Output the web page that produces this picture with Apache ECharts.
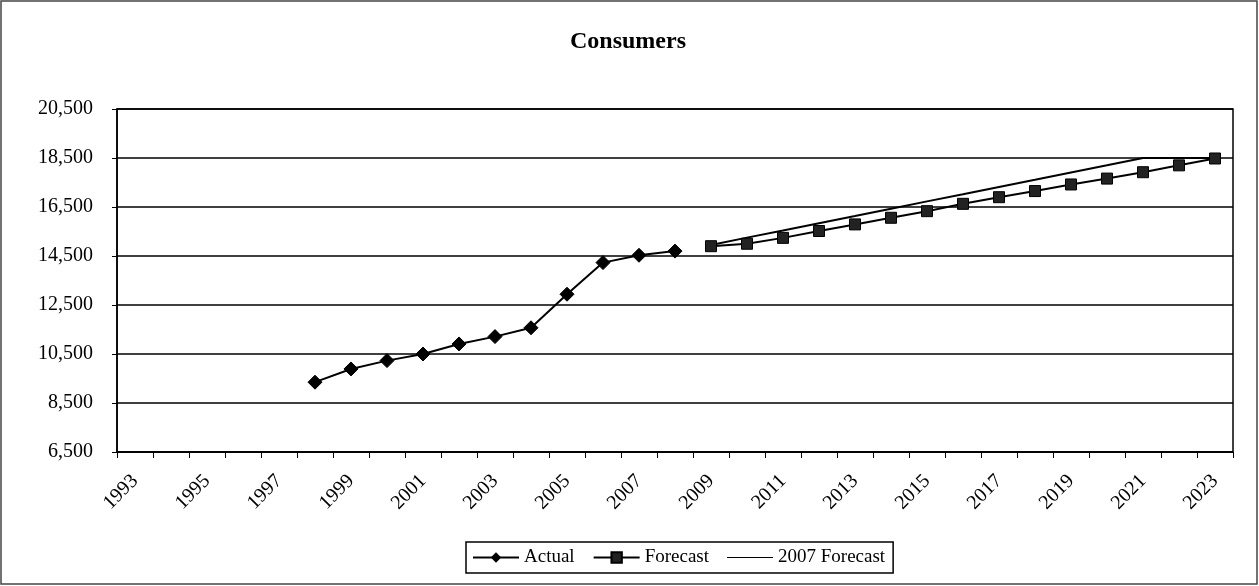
<!DOCTYPE html>
<html>
<head>
<meta charset="utf-8">
<script src="https://cdn.jsdelivr.net/npm/echarts@6/dist/echarts.min.js"></script>
<style>
html,body{margin:0;padding:0;background:#fff;}
#chart{width:1259px;height:586px;}
</style>
</head>
<body>
<div id="chart"></div>
<script>
const years = ['1993','1994','1995','1996','1997','1998','1999','2000','2001','2002','2003','2004','2005','2006','2007','2008','2009','2010','2011','2012','2013','2014','2015','2016','2017','2018','2019','2020','2021','2022','2023'];
const actual = [null,null,null,null,null,9350,9890,10230,10500,10910,11210,11570,12940,14230,14530,14700,null,null,null,null,null,null,null,null,null,null,null,null,null,null,null];
const forecast = [null,null,null,null,null,null,null,null,null,null,null,null,null,null,null,null,14900,15000,15240,15520,15790,16060,16330,16630,16900,17150,17420,17660,17920,18200,18480];
const forecast2007 = [null,null,null,null,null,null,null,null,null,null,null,null,null,null,null,null,14950,15250,15540,15840,16130,16430,16730,17020,17320,17610,17910,18200,18500,18500,18500];
const yTicks = {min: 6500, max: 20500, interval: 2000};

const serif = '"Liberation Serif", "DejaVu Serif", serif';
const chart = echarts.init(document.getElementById('chart'));
chart.setOption({
  backgroundColor: '#fff',
  animation: false,
  title: {
    text: 'Consumers',
    left: 570,
    top: 30,
    padding: 0,
    textStyle: {fontFamily: serif, fontSize: 24, fontWeight: 'bold', color: '#000'}
  },
  grid: {
    left: 117, right: 26, top: 109, bottom: 134,
    show: true, borderColor: '#000', borderWidth: 1.5
  },
  legend: {
    bottom: 13,
    left: 466,
    itemGap: 18,
    itemWidth: 46,
    itemHeight: 13,
    padding: [6, 8, 6, 6],
    borderColor: '#000',
    borderWidth: 1.5,
    textStyle: {fontFamily: serif, fontSize: 19, color: '#000'},
    data: [
      {name: 'Actual'},
      {name: 'Forecast'},
      {name: '2007 Forecast', icon: 'path://M0,0 L46,0 L46,1 L0,1 Z'}
    ]
  },
  xAxis: {
    type: 'category',
    data: years,
    boundaryGap: true,
    axisLine: {lineStyle: {color: '#000', width: 1.5}},
    axisTick: {show: true, interval: 0, length: 6, lineStyle: {color: '#000', width: 1}},
    axisLabel: {
      interval: 1, rotate: 45, margin: 26,
      fontFamily: serif, fontSize: 20, color: '#000'
    },
    splitLine: {show: false}
  },
  yAxis: {
    type: 'value',
    min: yTicks.min, max: yTicks.max, interval: yTicks.interval,
    axisLine: {show: true, lineStyle: {color: '#000', width: 1.5}},
    axisTick: {show: true, length: 5, lineStyle: {color: '#000'}},
    axisLabel: {
      margin: 24, fontFamily: serif, fontSize: 20, color: '#000',
      formatter: v => v.toLocaleString('en-US')
    },
    splitLine: {show: true, lineStyle: {color: '#000', width: 1.5}}
  },
  series: [
    {
      name: 'Actual', type: 'line', data: actual,
      symbol: 'diamond', symbolSize: 14,
      lineStyle: {color: '#000', width: 2},
      itemStyle: {color: '#000', borderColor: '#000'},
      z: 5
    },
    {
      name: 'Forecast', type: 'line', data: forecast,
      symbol: 'rect', symbolSize: 11,
      lineStyle: {color: '#000', width: 2},
      itemStyle: {color: '#222', borderColor: '#000', borderWidth: 1},
      z: 5
    },
    {
      name: '2007 Forecast', type: 'line', data: forecast2007,
      symbol: 'none', showSymbol: false,
      lineStyle: {color: '#000', width: 2},
      itemStyle: {color: '#000'},
      z: 4
    }
  ],
  graphic: [{
    type: 'rect',
    shape: {x: 1, y: 1, width: 1256, height: 583},
    style: {fill: 'none', stroke: '#444', lineWidth: 1.5},
    silent: true
  }]
});
</script>
</body>
</html>
